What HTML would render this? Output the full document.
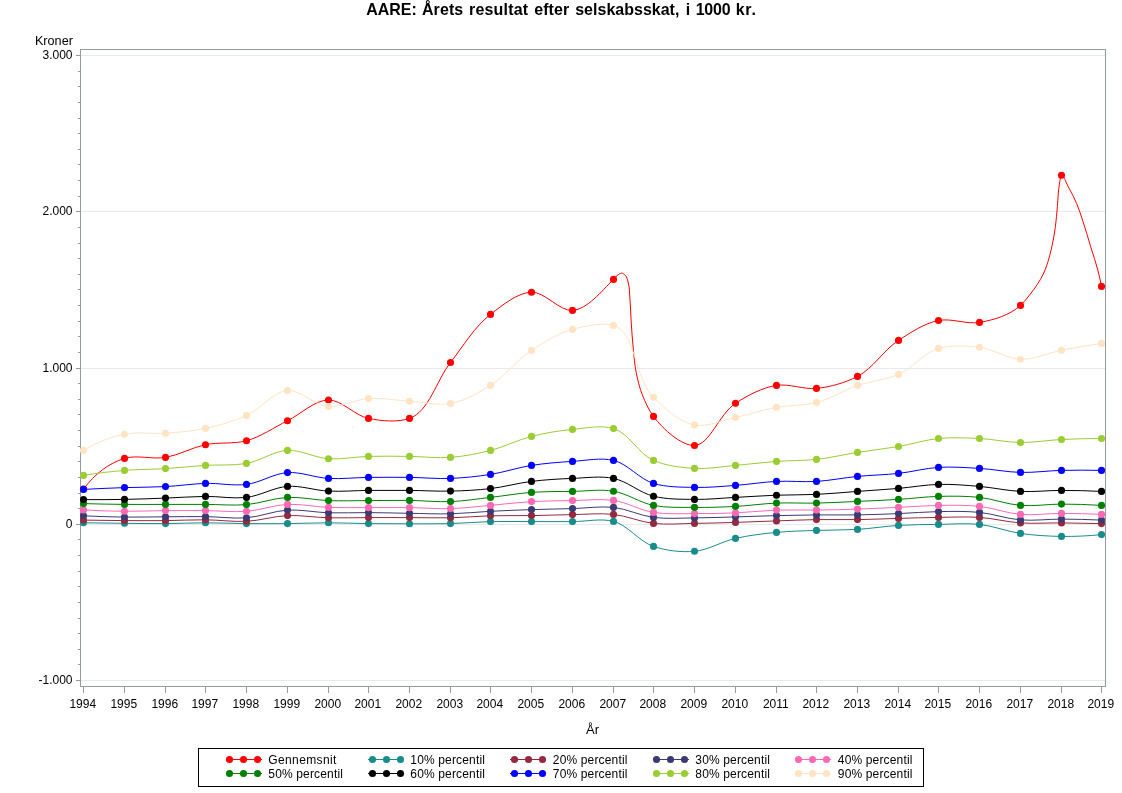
<!DOCTYPE html>
<html><head><meta charset="utf-8"><title>AARE</title>
<style>
html,body{margin:0;padding:0;background:#fff}
svg{display:block}
text{font-family:"Liberation Sans",Arial,sans-serif;fill:#000}
</style></head><body>
<svg width="1122" height="793" viewBox="0 0 1122 793">
<rect width="1122" height="793" fill="#fff"/>
<rect x="81" y="55" width="1024" height="1" fill="#E9E9E9"/>
<rect x="81" y="211" width="1024" height="1" fill="#E9E9E9"/>
<rect x="81" y="368" width="1024" height="1" fill="#E9E9E9"/>
<rect x="81" y="524" width="1024" height="1" fill="#E9E9E9"/>
<rect x="81" y="680" width="1024" height="1" fill="#E9E9E9"/>
<rect x="80.5" y="49.5" width="1025" height="637" fill="none" stroke="#949BA1" stroke-width="1"/>
<rect x="76" y="680" width="4" height="1" fill="#949BA1"/>
<rect x="78" y="664" width="2" height="1" fill="#949BA1"/>
<rect x="78" y="649" width="2" height="1" fill="#949BA1"/>
<rect x="78" y="633" width="2" height="1" fill="#949BA1"/>
<rect x="78" y="618" width="2" height="1" fill="#949BA1"/>
<rect x="78" y="602" width="2" height="1" fill="#949BA1"/>
<rect x="78" y="586" width="2" height="1" fill="#949BA1"/>
<rect x="78" y="571" width="2" height="1" fill="#949BA1"/>
<rect x="78" y="555" width="2" height="1" fill="#949BA1"/>
<rect x="78" y="539" width="2" height="1" fill="#949BA1"/>
<rect x="76" y="524" width="4" height="1" fill="#949BA1"/>
<rect x="78" y="508" width="2" height="1" fill="#949BA1"/>
<rect x="78" y="493" width="2" height="1" fill="#949BA1"/>
<rect x="78" y="477" width="2" height="1" fill="#949BA1"/>
<rect x="78" y="461" width="2" height="1" fill="#949BA1"/>
<rect x="78" y="446" width="2" height="1" fill="#949BA1"/>
<rect x="78" y="430" width="2" height="1" fill="#949BA1"/>
<rect x="78" y="414" width="2" height="1" fill="#949BA1"/>
<rect x="78" y="399" width="2" height="1" fill="#949BA1"/>
<rect x="78" y="383" width="2" height="1" fill="#949BA1"/>
<rect x="76" y="368" width="4" height="1" fill="#949BA1"/>
<rect x="78" y="352" width="2" height="1" fill="#949BA1"/>
<rect x="78" y="336" width="2" height="1" fill="#949BA1"/>
<rect x="78" y="321" width="2" height="1" fill="#949BA1"/>
<rect x="78" y="305" width="2" height="1" fill="#949BA1"/>
<rect x="78" y="289" width="2" height="1" fill="#949BA1"/>
<rect x="78" y="274" width="2" height="1" fill="#949BA1"/>
<rect x="78" y="258" width="2" height="1" fill="#949BA1"/>
<rect x="78" y="243" width="2" height="1" fill="#949BA1"/>
<rect x="78" y="227" width="2" height="1" fill="#949BA1"/>
<rect x="76" y="211" width="4" height="1" fill="#949BA1"/>
<rect x="78" y="196" width="2" height="1" fill="#949BA1"/>
<rect x="78" y="180" width="2" height="1" fill="#949BA1"/>
<rect x="78" y="164" width="2" height="1" fill="#949BA1"/>
<rect x="78" y="149" width="2" height="1" fill="#949BA1"/>
<rect x="78" y="133" width="2" height="1" fill="#949BA1"/>
<rect x="78" y="118" width="2" height="1" fill="#949BA1"/>
<rect x="78" y="102" width="2" height="1" fill="#949BA1"/>
<rect x="78" y="86" width="2" height="1" fill="#949BA1"/>
<rect x="78" y="71" width="2" height="1" fill="#949BA1"/>
<rect x="76" y="55" width="4" height="1" fill="#949BA1"/>
<rect x="83" y="687" width="1" height="6" fill="#949BA1"/>
<rect x="124" y="687" width="1" height="6" fill="#949BA1"/>
<rect x="165" y="687" width="1" height="6" fill="#949BA1"/>
<rect x="205" y="687" width="1" height="6" fill="#949BA1"/>
<rect x="246" y="687" width="1" height="6" fill="#949BA1"/>
<rect x="287" y="687" width="1" height="6" fill="#949BA1"/>
<rect x="328" y="687" width="1" height="6" fill="#949BA1"/>
<rect x="368" y="687" width="1" height="6" fill="#949BA1"/>
<rect x="409" y="687" width="1" height="6" fill="#949BA1"/>
<rect x="450" y="687" width="1" height="6" fill="#949BA1"/>
<rect x="490" y="687" width="1" height="6" fill="#949BA1"/>
<rect x="531" y="687" width="1" height="6" fill="#949BA1"/>
<rect x="572" y="687" width="1" height="6" fill="#949BA1"/>
<rect x="613" y="687" width="1" height="6" fill="#949BA1"/>
<rect x="653" y="687" width="1" height="6" fill="#949BA1"/>
<rect x="694" y="687" width="1" height="6" fill="#949BA1"/>
<rect x="735" y="687" width="1" height="6" fill="#949BA1"/>
<rect x="776" y="687" width="1" height="6" fill="#949BA1"/>
<rect x="816" y="687" width="1" height="6" fill="#949BA1"/>
<rect x="857" y="687" width="1" height="6" fill="#949BA1"/>
<rect x="898" y="687" width="1" height="6" fill="#949BA1"/>
<rect x="938" y="687" width="1" height="6" fill="#949BA1"/>
<rect x="979" y="687" width="1" height="6" fill="#949BA1"/>
<rect x="1020" y="687" width="1" height="6" fill="#949BA1"/>
<rect x="1061" y="687" width="1" height="6" fill="#949BA1"/>
<rect x="1101" y="687" width="1" height="6" fill="#949BA1"/>
<g fill="#FF0000" stroke="none">
<path d="M83.50 489.10C95.28 473.41 108.94 463.18 124.50 458.40C136.96 454.57 152.15 459.61 165.50 457.40C179.16 455.14 191.87 447.48 205.50 444.70C218.88 441.97 233.46 444.26 246.50 440.70C260.94 436.76 273.88 427.46 287.50 420.70C301.21 413.89 314.71 400.11 328.50 400.00C341.72 399.89 354.47 415.44 368.50 418.40C381.56 421.15 397.91 422.50 409.50 418.40C429.10 411.48 436.25 380.68 450.50 362.50C463.36 346.10 474.30 326.94 490.50 314.40C502.57 305.06 517.56 292.61 531.50 292.20C544.91 291.80 559.64 311.36 572.50 310.40C587.23 309.30 601.33 291.43 613.50 279.40C615.02 277.89 616.23 275.96 618.00 274.80C619.07 274.10 620.35 273.10 621.50 273.10C622.79 273.11 624.29 274.35 625.30 275.30C627.20 277.09 627.55 280.37 628.30 283.00C629.67 287.80 629.47 292.99 629.90 298.00C630.59 305.98 630.68 314.01 631.20 322.00C631.79 331.01 632.38 340.02 633.30 349.00C634.10 356.82 634.68 364.71 636.20 372.40C637.70 379.97 639.52 387.62 642.30 394.80C645.21 402.32 648.83 410.02 653.50 416.40C663.16 429.59 681.75 445.81 694.50 445.50C709.42 445.14 719.39 413.83 735.50 403.30C747.75 395.29 762.20 387.63 776.50 385.40C789.32 383.40 803.41 389.70 816.50 388.40C830.44 387.01 845.14 382.77 857.50 376.40C873.29 368.27 883.39 350.26 898.50 340.40C910.87 332.33 924.36 323.32 938.50 320.50C951.49 317.91 966.33 324.59 979.50 322.40C993.74 320.03 1009.82 315.20 1020.50 305.40C1024.07 302.13 1027.17 298.09 1030.20 294.20C1035.12 287.88 1039.84 281.17 1043.30 274.00C1047.10 266.12 1049.31 257.35 1051.40 248.80C1053.18 241.51 1054.38 234.04 1055.40 226.60C1056.32 219.90 1056.76 213.14 1057.40 206.40C1058.10 199.00 1058.00 191.48 1059.40 184.20C1059.98 181.21 1060.46 176.04 1061.50 175.30C1063.07 174.19 1066.29 183.17 1068.50 187.20C1071.40 192.49 1074.24 197.86 1076.60 203.40C1078.97 208.96 1080.77 214.76 1082.70 220.50C1085.61 229.18 1088.03 238.04 1090.70 246.80C1093.06 254.54 1095.78 262.17 1097.80 270.00C1099.20 275.42 1100.43 280.89 1101.50 286.40" fill="none" stroke="#FF0000" stroke-width="1"/>
<circle cx="83.5" cy="489.1" r="3.55"/>
<circle cx="124.5" cy="458.4" r="3.55"/>
<circle cx="165.5" cy="457.4" r="3.55"/>
<circle cx="205.5" cy="444.7" r="3.55"/>
<circle cx="246.5" cy="440.7" r="3.55"/>
<circle cx="287.5" cy="420.7" r="3.55"/>
<circle cx="328.5" cy="400.0" r="3.55"/>
<circle cx="368.5" cy="418.4" r="3.55"/>
<circle cx="409.5" cy="418.4" r="3.55"/>
<circle cx="450.5" cy="362.5" r="3.55"/>
<circle cx="490.5" cy="314.4" r="3.55"/>
<circle cx="531.5" cy="292.2" r="3.55"/>
<circle cx="572.5" cy="310.4" r="3.55"/>
<circle cx="613.5" cy="279.4" r="3.55"/>
<circle cx="653.5" cy="416.4" r="3.55"/>
<circle cx="694.5" cy="445.5" r="3.55"/>
<circle cx="735.5" cy="403.3" r="3.55"/>
<circle cx="776.5" cy="385.4" r="3.55"/>
<circle cx="816.5" cy="388.4" r="3.55"/>
<circle cx="857.5" cy="376.4" r="3.55"/>
<circle cx="898.5" cy="340.4" r="3.55"/>
<circle cx="938.5" cy="320.5" r="3.55"/>
<circle cx="979.5" cy="322.4" r="3.55"/>
<circle cx="1020.5" cy="305.4" r="3.55"/>
<circle cx="1061.5" cy="175.3" r="3.55"/>
<circle cx="1101.5" cy="286.4" r="3.55"/>
</g>
<g fill="#188C8C" stroke="none">
<path d="M83.50 522.80C97.17 523.00 110.83 523.17 124.50 523.30C138.17 523.43 151.83 523.69 165.50 523.60C178.83 523.51 192.17 522.81 205.50 522.80C219.17 522.79 232.83 523.47 246.50 523.60C260.17 523.73 273.83 523.73 287.50 523.60C301.17 523.47 314.83 522.79 328.50 522.80C341.83 522.81 355.17 523.43 368.50 523.60C382.17 523.77 395.83 523.80 409.50 523.80C423.17 523.80 436.84 523.98 450.50 523.60C463.84 523.23 477.16 521.94 490.50 521.60C504.16 521.25 517.83 521.60 531.50 521.60C545.17 521.60 558.83 521.63 572.50 521.60C586.17 521.57 600.80 518.07 613.50 521.40C628.11 525.23 638.95 541.52 653.50 546.40C666.24 550.68 681.10 552.49 694.50 551.30C708.45 550.06 721.57 541.57 735.50 538.40C748.93 535.35 762.77 533.73 776.50 532.40C789.77 531.11 803.16 530.90 816.50 530.40C830.16 529.89 843.86 530.23 857.50 529.40C871.20 528.57 884.80 526.23 898.50 525.40C911.80 524.59 925.16 524.57 938.50 524.40C952.16 524.23 965.99 522.95 979.50 524.40C993.33 525.88 1006.69 531.40 1020.50 533.40C1034.03 535.36 1047.82 536.22 1061.50 536.40C1074.82 536.58 1088.16 535.98 1101.50 534.60" fill="none" stroke="#188C8C" stroke-width="1"/>
<circle cx="83.5" cy="522.8" r="3.55"/>
<circle cx="124.5" cy="523.3" r="3.55"/>
<circle cx="165.5" cy="523.6" r="3.55"/>
<circle cx="205.5" cy="522.8" r="3.55"/>
<circle cx="246.5" cy="523.6" r="3.55"/>
<circle cx="287.5" cy="523.6" r="3.55"/>
<circle cx="328.5" cy="522.8" r="3.55"/>
<circle cx="368.5" cy="523.6" r="3.55"/>
<circle cx="409.5" cy="523.8" r="3.55"/>
<circle cx="450.5" cy="523.6" r="3.55"/>
<circle cx="490.5" cy="521.6" r="3.55"/>
<circle cx="531.5" cy="521.6" r="3.55"/>
<circle cx="572.5" cy="521.6" r="3.55"/>
<circle cx="613.5" cy="521.4" r="3.55"/>
<circle cx="653.5" cy="546.4" r="3.55"/>
<circle cx="694.5" cy="551.3" r="3.55"/>
<circle cx="735.5" cy="538.4" r="3.55"/>
<circle cx="776.5" cy="532.4" r="3.55"/>
<circle cx="816.5" cy="530.4" r="3.55"/>
<circle cx="857.5" cy="529.4" r="3.55"/>
<circle cx="898.5" cy="525.4" r="3.55"/>
<circle cx="938.5" cy="524.4" r="3.55"/>
<circle cx="979.5" cy="524.4" r="3.55"/>
<circle cx="1020.5" cy="533.4" r="3.55"/>
<circle cx="1061.5" cy="536.4" r="3.55"/>
<circle cx="1101.5" cy="534.6" r="3.55"/>
</g>
<g fill="#96293E" stroke="none">
<path d="M83.50 520.10C97.17 520.35 110.83 520.52 124.50 520.60C138.17 520.68 151.83 520.74 165.50 520.60C178.83 520.47 192.17 519.69 205.50 519.80C219.17 519.91 232.89 521.99 246.50 521.30C260.23 520.61 273.78 516.17 287.50 515.60C301.11 515.03 314.82 517.47 328.50 517.80C341.82 518.12 355.17 517.63 368.50 517.60C382.17 517.57 395.83 517.57 409.50 517.60C423.17 517.63 436.84 518.11 450.50 517.80C463.84 517.49 477.16 516.17 490.50 515.80C504.16 515.42 517.84 515.80 531.50 515.60C545.17 515.40 558.83 514.80 572.50 514.60C586.16 514.40 600.00 512.93 613.50 514.40C627.00 515.87 640.00 521.90 653.50 523.40C667.00 524.90 680.84 523.57 694.50 523.40C708.17 523.23 721.84 522.82 735.50 522.40C749.17 521.98 762.83 521.37 776.50 520.90C789.83 520.44 803.16 519.82 816.50 519.60C830.16 519.38 843.84 519.80 857.50 519.60C871.17 519.40 884.83 518.77 898.50 518.40C911.83 518.04 925.16 517.57 938.50 517.40C952.16 517.23 965.89 516.50 979.50 517.40C993.23 518.31 1006.77 521.99 1020.50 522.90C1034.11 523.80 1047.83 522.78 1061.50 522.90C1074.83 523.02 1088.17 523.25 1101.50 523.60" fill="none" stroke="#96293E" stroke-width="1"/>
<circle cx="83.5" cy="520.1" r="3.55"/>
<circle cx="124.5" cy="520.6" r="3.55"/>
<circle cx="165.5" cy="520.6" r="3.55"/>
<circle cx="205.5" cy="519.8" r="3.55"/>
<circle cx="246.5" cy="521.3" r="3.55"/>
<circle cx="287.5" cy="515.6" r="3.55"/>
<circle cx="328.5" cy="517.8" r="3.55"/>
<circle cx="368.5" cy="517.6" r="3.55"/>
<circle cx="409.5" cy="517.6" r="3.55"/>
<circle cx="450.5" cy="517.8" r="3.55"/>
<circle cx="490.5" cy="515.8" r="3.55"/>
<circle cx="531.5" cy="515.6" r="3.55"/>
<circle cx="572.5" cy="514.6" r="3.55"/>
<circle cx="613.5" cy="514.4" r="3.55"/>
<circle cx="653.5" cy="523.4" r="3.55"/>
<circle cx="694.5" cy="523.4" r="3.55"/>
<circle cx="735.5" cy="522.4" r="3.55"/>
<circle cx="776.5" cy="520.9" r="3.55"/>
<circle cx="816.5" cy="519.6" r="3.55"/>
<circle cx="857.5" cy="519.6" r="3.55"/>
<circle cx="898.5" cy="518.4" r="3.55"/>
<circle cx="938.5" cy="517.4" r="3.55"/>
<circle cx="979.5" cy="517.4" r="3.55"/>
<circle cx="1020.5" cy="522.9" r="3.55"/>
<circle cx="1061.5" cy="522.9" r="3.55"/>
<circle cx="1101.5" cy="523.6" r="3.55"/>
</g>
<g fill="#3C3A73" stroke="none">
<path d="M83.50 515.80C97.16 516.50 110.83 516.93 124.50 517.10C138.16 517.27 151.83 516.88 165.50 516.80C178.83 516.72 192.17 516.44 205.50 516.60C219.17 516.76 232.95 518.85 246.50 517.80C260.28 516.73 273.73 510.91 287.50 510.10C301.06 509.30 314.82 512.39 328.50 512.80C341.82 513.20 355.17 512.52 368.50 512.60C382.17 512.68 395.83 513.10 409.50 513.30C423.17 513.50 436.85 514.15 450.50 513.80C463.85 513.46 477.16 512.00 490.50 511.30C504.16 510.59 517.83 510.05 531.50 509.60C545.16 509.15 558.83 508.97 572.50 508.60C586.17 508.23 600.03 505.95 613.50 507.40C627.04 508.86 639.96 515.65 653.50 517.40C666.96 519.14 680.83 517.98 694.50 517.90C708.17 517.82 721.83 517.28 735.50 516.90C749.17 516.52 762.83 515.94 776.50 515.60C789.83 515.27 803.17 515.02 816.50 514.90C830.17 514.78 843.84 515.12 857.50 514.90C871.17 514.68 884.84 514.16 898.50 513.60C911.84 513.05 925.16 511.81 938.50 511.60C952.16 511.39 965.94 511.05 979.50 512.40C993.28 513.78 1006.72 518.80 1020.50 519.90C1034.06 520.99 1047.83 519.06 1061.50 519.10C1074.83 519.14 1088.17 519.47 1101.50 520.10" fill="none" stroke="#3C3A73" stroke-width="1"/>
<circle cx="83.5" cy="515.8" r="3.55"/>
<circle cx="124.5" cy="517.1" r="3.55"/>
<circle cx="165.5" cy="516.8" r="3.55"/>
<circle cx="205.5" cy="516.6" r="3.55"/>
<circle cx="246.5" cy="517.8" r="3.55"/>
<circle cx="287.5" cy="510.1" r="3.55"/>
<circle cx="328.5" cy="512.8" r="3.55"/>
<circle cx="368.5" cy="512.6" r="3.55"/>
<circle cx="409.5" cy="513.3" r="3.55"/>
<circle cx="450.5" cy="513.8" r="3.55"/>
<circle cx="490.5" cy="511.3" r="3.55"/>
<circle cx="531.5" cy="509.6" r="3.55"/>
<circle cx="572.5" cy="508.6" r="3.55"/>
<circle cx="613.5" cy="507.4" r="3.55"/>
<circle cx="653.5" cy="517.4" r="3.55"/>
<circle cx="694.5" cy="517.9" r="3.55"/>
<circle cx="735.5" cy="516.9" r="3.55"/>
<circle cx="776.5" cy="515.6" r="3.55"/>
<circle cx="816.5" cy="514.9" r="3.55"/>
<circle cx="857.5" cy="514.9" r="3.55"/>
<circle cx="898.5" cy="513.6" r="3.55"/>
<circle cx="938.5" cy="511.6" r="3.55"/>
<circle cx="979.5" cy="512.4" r="3.55"/>
<circle cx="1020.5" cy="519.9" r="3.55"/>
<circle cx="1061.5" cy="519.1" r="3.55"/>
<circle cx="1101.5" cy="520.1" r="3.55"/>
</g>
<g fill="#FF69B4" stroke="none">
<path d="M83.50 509.90C97.16 510.72 110.83 511.18 124.50 511.30C138.16 511.42 151.83 510.72 165.50 510.60C178.83 510.49 192.17 510.49 205.50 510.60C219.17 510.72 232.93 512.31 246.50 511.30C260.26 510.28 273.76 505.03 287.50 504.40C301.09 503.77 314.81 506.87 328.50 507.40C341.82 507.91 355.17 507.57 368.50 507.60C382.17 507.63 395.84 507.43 409.50 507.60C423.17 507.77 436.85 508.99 450.50 508.60C463.85 508.22 477.17 506.55 490.50 505.40C504.17 504.22 517.81 502.40 531.50 501.60C545.14 500.80 558.83 500.80 572.50 500.60C586.16 500.40 600.12 498.49 613.50 500.40C627.13 502.35 639.87 510.21 653.50 512.40C666.88 514.55 680.83 513.52 694.50 513.60C708.16 513.68 721.85 513.48 735.50 512.90C749.18 512.32 762.82 510.56 776.50 510.10C789.82 509.65 803.17 510.26 816.50 510.10C830.17 509.94 843.84 509.55 857.50 509.10C871.17 508.65 884.84 508.03 898.50 507.40C911.84 506.79 925.16 505.58 938.50 505.40C952.16 505.22 965.96 504.93 979.50 506.40C993.29 507.89 1006.71 513.25 1020.50 514.40C1034.04 515.53 1047.83 513.39 1061.50 513.40C1074.83 513.41 1088.17 513.74 1101.50 514.40" fill="none" stroke="#FF69B4" stroke-width="1"/>
<circle cx="83.5" cy="509.9" r="3.55"/>
<circle cx="124.5" cy="511.3" r="3.55"/>
<circle cx="165.5" cy="510.6" r="3.55"/>
<circle cx="205.5" cy="510.6" r="3.55"/>
<circle cx="246.5" cy="511.3" r="3.55"/>
<circle cx="287.5" cy="504.4" r="3.55"/>
<circle cx="328.5" cy="507.4" r="3.55"/>
<circle cx="368.5" cy="507.6" r="3.55"/>
<circle cx="409.5" cy="507.6" r="3.55"/>
<circle cx="450.5" cy="508.6" r="3.55"/>
<circle cx="490.5" cy="505.4" r="3.55"/>
<circle cx="531.5" cy="501.6" r="3.55"/>
<circle cx="572.5" cy="500.6" r="3.55"/>
<circle cx="613.5" cy="500.4" r="3.55"/>
<circle cx="653.5" cy="512.4" r="3.55"/>
<circle cx="694.5" cy="513.6" r="3.55"/>
<circle cx="735.5" cy="512.9" r="3.55"/>
<circle cx="776.5" cy="510.1" r="3.55"/>
<circle cx="816.5" cy="510.1" r="3.55"/>
<circle cx="857.5" cy="509.1" r="3.55"/>
<circle cx="898.5" cy="507.4" r="3.55"/>
<circle cx="938.5" cy="505.4" r="3.55"/>
<circle cx="979.5" cy="506.4" r="3.55"/>
<circle cx="1020.5" cy="514.4" r="3.55"/>
<circle cx="1061.5" cy="513.4" r="3.55"/>
<circle cx="1101.5" cy="514.4" r="3.55"/>
</g>
<g fill="#008000" stroke="none">
<path d="M83.50 503.60C97.17 504.00 110.83 504.27 124.50 504.40C138.17 504.53 151.83 504.40 165.50 504.40C178.83 504.40 192.17 504.37 205.50 504.40C219.17 504.43 232.94 505.74 246.50 504.60C260.27 503.44 273.75 498.05 287.50 497.40C301.08 496.76 314.81 500.07 328.50 500.60C341.81 501.11 355.17 500.63 368.50 500.60C382.17 500.57 395.84 500.23 409.50 500.40C423.17 500.57 436.87 502.12 450.50 501.60C463.87 501.09 477.18 498.91 490.50 497.40C504.18 495.85 517.78 493.40 531.50 492.40C545.12 491.41 558.83 491.60 572.50 491.40C586.16 491.20 600.22 488.99 613.50 491.20C627.25 493.49 639.76 502.72 653.50 505.40C666.79 507.99 680.83 507.23 694.50 507.40C708.16 507.57 721.85 507.11 735.50 506.40C749.19 505.68 762.81 503.64 776.50 503.10C789.81 502.57 803.17 503.37 816.50 503.10C830.17 502.82 843.84 502.02 857.50 501.40C871.17 500.78 884.84 500.25 898.50 499.40C911.84 498.57 925.15 496.74 938.50 496.40C952.15 496.05 965.96 495.93 979.50 497.40C993.29 498.89 1006.71 504.30 1020.50 505.40C1034.04 506.48 1047.83 504.09 1061.50 504.10C1074.83 504.11 1088.17 504.54 1101.50 505.40" fill="none" stroke="#008000" stroke-width="1"/>
<circle cx="83.5" cy="503.6" r="3.55"/>
<circle cx="124.5" cy="504.4" r="3.55"/>
<circle cx="165.5" cy="504.4" r="3.55"/>
<circle cx="205.5" cy="504.4" r="3.55"/>
<circle cx="246.5" cy="504.6" r="3.55"/>
<circle cx="287.5" cy="497.4" r="3.55"/>
<circle cx="328.5" cy="500.6" r="3.55"/>
<circle cx="368.5" cy="500.6" r="3.55"/>
<circle cx="409.5" cy="500.4" r="3.55"/>
<circle cx="450.5" cy="501.6" r="3.55"/>
<circle cx="490.5" cy="497.4" r="3.55"/>
<circle cx="531.5" cy="492.4" r="3.55"/>
<circle cx="572.5" cy="491.4" r="3.55"/>
<circle cx="613.5" cy="491.2" r="3.55"/>
<circle cx="653.5" cy="505.4" r="3.55"/>
<circle cx="694.5" cy="507.4" r="3.55"/>
<circle cx="735.5" cy="506.4" r="3.55"/>
<circle cx="776.5" cy="503.1" r="3.55"/>
<circle cx="816.5" cy="503.1" r="3.55"/>
<circle cx="857.5" cy="501.4" r="3.55"/>
<circle cx="898.5" cy="499.4" r="3.55"/>
<circle cx="938.5" cy="496.4" r="3.55"/>
<circle cx="979.5" cy="497.4" r="3.55"/>
<circle cx="1020.5" cy="505.4" r="3.55"/>
<circle cx="1061.5" cy="504.1" r="3.55"/>
<circle cx="1101.5" cy="505.4" r="3.55"/>
</g>
<g fill="#000000" stroke="none">
<path d="M83.50 499.60C97.17 499.72 110.84 499.65 124.50 499.40C138.17 499.15 151.84 498.61 165.50 498.10C178.84 497.60 192.16 496.53 205.50 496.40C219.16 496.27 233.06 498.97 246.50 497.40C260.41 495.77 273.63 487.39 287.50 486.40C300.98 485.44 314.79 490.45 328.50 491.10C341.79 491.73 355.17 490.52 368.50 490.40C382.17 490.28 395.83 490.28 409.50 490.40C423.17 490.52 436.85 491.42 450.50 491.10C463.85 490.79 477.25 490.16 490.50 488.60C504.26 486.98 517.75 483.10 531.50 481.40C545.08 479.72 558.82 478.90 572.50 478.40C586.15 477.90 600.40 475.71 613.50 478.40C627.48 481.27 639.54 492.74 653.50 496.20C666.61 499.45 680.82 499.20 694.50 499.40C708.15 499.60 721.84 498.10 735.50 497.40C749.17 496.70 762.82 495.70 776.50 495.20C789.83 494.71 803.18 495.02 816.50 494.40C830.18 493.77 843.83 492.40 857.50 491.40C871.17 490.40 884.85 489.58 898.50 488.40C911.85 487.24 925.14 484.75 938.50 484.40C952.14 484.04 965.88 485.24 979.50 486.40C993.21 487.57 1006.78 490.74 1020.50 491.40C1034.12 492.06 1047.83 490.39 1061.50 490.40C1074.83 490.41 1088.17 490.74 1101.50 491.40" fill="none" stroke="#000000" stroke-width="1"/>
<circle cx="83.5" cy="499.6" r="3.55"/>
<circle cx="124.5" cy="499.4" r="3.55"/>
<circle cx="165.5" cy="498.1" r="3.55"/>
<circle cx="205.5" cy="496.4" r="3.55"/>
<circle cx="246.5" cy="497.4" r="3.55"/>
<circle cx="287.5" cy="486.4" r="3.55"/>
<circle cx="328.5" cy="491.1" r="3.55"/>
<circle cx="368.5" cy="490.4" r="3.55"/>
<circle cx="409.5" cy="490.4" r="3.55"/>
<circle cx="450.5" cy="491.1" r="3.55"/>
<circle cx="490.5" cy="488.6" r="3.55"/>
<circle cx="531.5" cy="481.4" r="3.55"/>
<circle cx="572.5" cy="478.4" r="3.55"/>
<circle cx="613.5" cy="478.4" r="3.55"/>
<circle cx="653.5" cy="496.2" r="3.55"/>
<circle cx="694.5" cy="499.4" r="3.55"/>
<circle cx="735.5" cy="497.4" r="3.55"/>
<circle cx="776.5" cy="495.2" r="3.55"/>
<circle cx="816.5" cy="494.4" r="3.55"/>
<circle cx="857.5" cy="491.4" r="3.55"/>
<circle cx="898.5" cy="488.4" r="3.55"/>
<circle cx="938.5" cy="484.4" r="3.55"/>
<circle cx="979.5" cy="486.4" r="3.55"/>
<circle cx="1020.5" cy="491.4" r="3.55"/>
<circle cx="1061.5" cy="490.4" r="3.55"/>
<circle cx="1101.5" cy="491.4" r="3.55"/>
</g>
<g fill="#0000FF" stroke="none">
<path d="M83.50 489.40C97.16 488.67 110.83 488.07 124.50 487.60C138.16 487.13 151.85 487.32 165.50 486.60C178.85 485.90 192.15 483.78 205.50 483.40C219.15 483.01 233.09 486.08 246.50 484.40C260.45 482.65 273.62 473.53 287.50 472.60C300.97 471.70 314.77 477.63 328.50 478.40C341.77 479.15 355.16 477.57 368.50 477.40C382.16 477.23 395.84 477.23 409.50 477.40C423.17 477.57 436.87 478.92 450.50 478.40C463.86 477.89 477.29 476.49 490.50 474.40C504.30 472.22 517.70 467.57 531.50 465.40C545.04 463.27 558.80 462.23 572.50 461.40C586.14 460.57 600.69 457.37 613.50 460.40C627.91 463.81 639.12 478.99 653.50 483.40C666.34 487.33 680.81 487.07 694.50 487.40C708.14 487.73 721.86 486.40 735.50 485.40C749.19 484.40 762.80 482.06 776.50 481.40C789.80 480.76 803.21 482.19 816.50 481.40C830.22 480.58 843.80 477.73 857.50 476.40C871.13 475.07 884.89 474.92 898.50 473.40C911.89 471.90 925.09 468.24 938.50 467.40C952.09 466.54 965.86 467.57 979.50 468.40C993.20 469.23 1006.81 472.07 1020.50 472.40C1034.14 472.73 1047.83 470.73 1061.50 470.40C1074.83 470.08 1088.16 470.08 1101.50 470.40" fill="none" stroke="#0000FF" stroke-width="1"/>
<circle cx="83.5" cy="489.4" r="3.55"/>
<circle cx="124.5" cy="487.6" r="3.55"/>
<circle cx="165.5" cy="486.6" r="3.55"/>
<circle cx="205.5" cy="483.4" r="3.55"/>
<circle cx="246.5" cy="484.4" r="3.55"/>
<circle cx="287.5" cy="472.6" r="3.55"/>
<circle cx="328.5" cy="478.4" r="3.55"/>
<circle cx="368.5" cy="477.4" r="3.55"/>
<circle cx="409.5" cy="477.4" r="3.55"/>
<circle cx="450.5" cy="478.4" r="3.55"/>
<circle cx="490.5" cy="474.4" r="3.55"/>
<circle cx="531.5" cy="465.4" r="3.55"/>
<circle cx="572.5" cy="461.4" r="3.55"/>
<circle cx="613.5" cy="460.4" r="3.55"/>
<circle cx="653.5" cy="483.4" r="3.55"/>
<circle cx="694.5" cy="487.4" r="3.55"/>
<circle cx="735.5" cy="485.4" r="3.55"/>
<circle cx="776.5" cy="481.4" r="3.55"/>
<circle cx="816.5" cy="481.4" r="3.55"/>
<circle cx="857.5" cy="476.4" r="3.55"/>
<circle cx="898.5" cy="473.4" r="3.55"/>
<circle cx="938.5" cy="467.4" r="3.55"/>
<circle cx="979.5" cy="468.4" r="3.55"/>
<circle cx="1020.5" cy="472.4" r="3.55"/>
<circle cx="1061.5" cy="470.4" r="3.55"/>
<circle cx="1101.5" cy="470.4" r="3.55"/>
</g>
<g fill="#9ACD32" stroke="none">
<path d="M83.50 475.40C97.12 473.20 110.79 471.53 124.50 470.40C138.12 469.27 151.85 469.45 165.50 468.60C178.85 467.77 192.15 466.26 205.50 465.40C219.15 464.52 233.14 465.76 246.50 463.40C260.50 460.93 273.64 451.09 287.50 450.40C300.98 449.72 314.70 457.76 328.50 458.70C341.71 459.60 355.16 456.79 368.50 456.40C382.16 456.00 395.84 456.23 409.50 456.40C423.17 456.57 436.93 458.42 450.50 457.40C463.93 456.39 477.42 453.72 490.50 450.40C504.46 446.86 517.54 439.93 531.50 436.40C544.90 433.02 558.74 430.71 572.50 429.40C586.07 428.11 601.16 424.87 613.50 428.50C628.90 433.02 638.29 453.82 653.50 460.40C665.92 465.77 680.72 467.59 694.50 468.40C708.06 469.20 721.85 466.57 735.50 465.40C749.18 464.23 762.81 462.40 776.50 461.40C789.81 460.42 803.25 460.84 816.50 459.40C830.26 457.90 843.81 454.55 857.50 452.40C871.14 450.26 884.90 448.84 898.50 446.50C911.90 444.20 925.03 439.84 938.50 438.50C952.03 437.16 965.87 437.84 979.50 438.50C993.20 439.17 1006.82 442.34 1020.50 442.50C1034.15 442.66 1047.82 440.17 1061.50 439.50C1074.82 438.85 1088.15 438.52 1101.50 438.50" fill="none" stroke="#9ACD32" stroke-width="1"/>
<circle cx="83.5" cy="475.4" r="3.55"/>
<circle cx="124.5" cy="470.4" r="3.55"/>
<circle cx="165.5" cy="468.6" r="3.55"/>
<circle cx="205.5" cy="465.4" r="3.55"/>
<circle cx="246.5" cy="463.4" r="3.55"/>
<circle cx="287.5" cy="450.4" r="3.55"/>
<circle cx="328.5" cy="458.7" r="3.55"/>
<circle cx="368.5" cy="456.4" r="3.55"/>
<circle cx="409.5" cy="456.4" r="3.55"/>
<circle cx="450.5" cy="457.4" r="3.55"/>
<circle cx="490.5" cy="450.4" r="3.55"/>
<circle cx="531.5" cy="436.4" r="3.55"/>
<circle cx="572.5" cy="429.4" r="3.55"/>
<circle cx="613.5" cy="428.5" r="3.55"/>
<circle cx="653.5" cy="460.4" r="3.55"/>
<circle cx="694.5" cy="468.4" r="3.55"/>
<circle cx="735.5" cy="465.4" r="3.55"/>
<circle cx="776.5" cy="461.4" r="3.55"/>
<circle cx="816.5" cy="459.4" r="3.55"/>
<circle cx="857.5" cy="452.4" r="3.55"/>
<circle cx="898.5" cy="446.5" r="3.55"/>
<circle cx="938.5" cy="438.5" r="3.55"/>
<circle cx="979.5" cy="438.5" r="3.55"/>
<circle cx="1020.5" cy="442.5" r="3.55"/>
<circle cx="1061.5" cy="439.5" r="3.55"/>
<circle cx="1101.5" cy="438.5" r="3.55"/>
</g>
<g fill="#FFE4C4" stroke="none">
<path d="M83.50 450.40C96.64 442.39 110.30 436.99 124.50 434.20C137.71 431.61 151.88 434.19 165.50 433.20C178.88 432.23 192.42 431.19 205.50 428.40C219.46 425.42 233.50 421.20 246.50 415.40C261.00 408.93 273.19 391.44 287.50 390.50C300.63 389.64 314.46 405.43 328.50 406.50C341.51 407.49 355.05 399.39 368.50 398.50C382.05 397.60 395.83 400.37 409.50 401.20C423.16 402.03 437.41 405.83 450.50 403.50C464.49 401.01 478.16 392.99 490.50 385.40C505.66 376.08 516.58 360.19 531.50 350.40C544.25 342.03 557.98 333.49 572.50 329.40C585.48 325.74 602.17 322.29 613.50 325.40C636.14 331.62 634.30 378.71 653.50 397.30C665.05 408.48 679.45 422.39 694.50 425.00C707.18 427.20 721.92 420.42 735.50 417.50C749.26 414.54 762.67 409.82 776.50 407.30C789.69 404.90 803.61 405.80 816.50 402.50C830.71 398.86 843.51 390.15 857.50 385.40C870.87 380.86 885.68 379.97 898.50 374.40C912.91 368.14 923.79 352.64 938.50 348.40C951.15 344.76 966.10 345.62 979.50 347.30C993.45 349.05 1006.71 358.76 1020.50 359.20C1034.05 359.64 1047.78 352.97 1061.50 350.30C1074.78 347.72 1088.11 345.42 1101.50 343.40" fill="none" stroke="#FFE4C4" stroke-width="1"/>
<circle cx="83.5" cy="450.4" r="3.55"/>
<circle cx="124.5" cy="434.2" r="3.55"/>
<circle cx="165.5" cy="433.2" r="3.55"/>
<circle cx="205.5" cy="428.4" r="3.55"/>
<circle cx="246.5" cy="415.4" r="3.55"/>
<circle cx="287.5" cy="390.5" r="3.55"/>
<circle cx="328.5" cy="406.5" r="3.55"/>
<circle cx="368.5" cy="398.5" r="3.55"/>
<circle cx="409.5" cy="401.2" r="3.55"/>
<circle cx="450.5" cy="403.5" r="3.55"/>
<circle cx="490.5" cy="385.4" r="3.55"/>
<circle cx="531.5" cy="350.4" r="3.55"/>
<circle cx="572.5" cy="329.4" r="3.55"/>
<circle cx="613.5" cy="325.4" r="3.55"/>
<circle cx="653.5" cy="397.3" r="3.55"/>
<circle cx="694.5" cy="425.0" r="3.55"/>
<circle cx="735.5" cy="417.5" r="3.55"/>
<circle cx="776.5" cy="407.3" r="3.55"/>
<circle cx="816.5" cy="402.5" r="3.55"/>
<circle cx="857.5" cy="385.4" r="3.55"/>
<circle cx="898.5" cy="374.4" r="3.55"/>
<circle cx="938.5" cy="348.4" r="3.55"/>
<circle cx="979.5" cy="347.3" r="3.55"/>
<circle cx="1020.5" cy="359.2" r="3.55"/>
<circle cx="1061.5" cy="350.3" r="3.55"/>
<circle cx="1101.5" cy="343.4" r="3.55"/>
</g>
<text transform="translate(0,15) scale(1,1.04)" y="0" font-weight="bold" font-size="16"><tspan x="366.2" textLength="50.67" lengthAdjust="spacing">AARE:</tspan> <tspan x="422.0" textLength="41.20" lengthAdjust="spacing">Årets</tspan> <tspan x="469.0" textLength="59.20" lengthAdjust="spacing">resultat</tspan> <tspan x="534.3" textLength="34.90" lengthAdjust="spacing">efter</tspan> <tspan x="575.2" textLength="104.20" lengthAdjust="spacing">selskabsskat,</tspan> <tspan x="685.8" textLength="4.45" lengthAdjust="spacing">i</tspan> <tspan x="695.7" textLength="34.90" lengthAdjust="spacing">1000</tspan> <tspan x="735.7" textLength="20.20" lengthAdjust="spacing">kr.</tspan></text>
<text x="34.9" y="45" font-size="13.6" textLength="38" lengthAdjust="spacingAndGlyphs">Kroner</text>
<text x="72.5" y="59" font-size="12" text-anchor="end">3.000</text>
<text x="72.5" y="215" font-size="12" text-anchor="end">2.000</text>
<text x="72.5" y="372" font-size="12" text-anchor="end">1.000</text>
<text x="72.5" y="528" font-size="12" text-anchor="end">0</text>
<text x="72.5" y="684" font-size="12" text-anchor="end">-1.000</text>
<text x="82.8" y="708" font-size="12" text-anchor="middle">1994</text>
<text x="123.8" y="708" font-size="12" text-anchor="middle">1995</text>
<text x="164.8" y="708" font-size="12" text-anchor="middle">1996</text>
<text x="204.8" y="708" font-size="12" text-anchor="middle">1997</text>
<text x="245.8" y="708" font-size="12" text-anchor="middle">1998</text>
<text x="286.8" y="708" font-size="12" text-anchor="middle">1999</text>
<text x="327.8" y="708" font-size="12" text-anchor="middle">2000</text>
<text x="367.8" y="708" font-size="12" text-anchor="middle">2001</text>
<text x="408.8" y="708" font-size="12" text-anchor="middle">2002</text>
<text x="449.8" y="708" font-size="12" text-anchor="middle">2003</text>
<text x="489.8" y="708" font-size="12" text-anchor="middle">2004</text>
<text x="530.8" y="708" font-size="12" text-anchor="middle">2005</text>
<text x="571.8" y="708" font-size="12" text-anchor="middle">2006</text>
<text x="612.8" y="708" font-size="12" text-anchor="middle">2007</text>
<text x="652.8" y="708" font-size="12" text-anchor="middle">2008</text>
<text x="693.8" y="708" font-size="12" text-anchor="middle">2009</text>
<text x="734.8" y="708" font-size="12" text-anchor="middle">2010</text>
<text x="775.8" y="708" font-size="12" text-anchor="middle">2011</text>
<text x="815.8" y="708" font-size="12" text-anchor="middle">2012</text>
<text x="856.8" y="708" font-size="12" text-anchor="middle">2013</text>
<text x="897.8" y="708" font-size="12" text-anchor="middle">2014</text>
<text x="937.8" y="708" font-size="12" text-anchor="middle">2015</text>
<text x="978.8" y="708" font-size="12" text-anchor="middle">2016</text>
<text x="1019.8" y="708" font-size="12" text-anchor="middle">2017</text>
<text x="1060.8" y="708" font-size="12" text-anchor="middle">2018</text>
<text x="1100.8" y="708" font-size="12" text-anchor="middle">2019</text>
<text x="586.1" y="734" font-size="13" textLength="13" lengthAdjust="spacingAndGlyphs">År</text>
<rect x="198.5" y="748.5" width="725" height="38" fill="#fff" stroke="#000" stroke-width="1"/>
<g fill="#FF0000"><rect x="226" y="759" width="36" height="1"/>
<circle cx="229.5" cy="759.5" r="3.55"/>
<circle cx="243.5" cy="759.5" r="3.55"/>
<circle cx="257.5" cy="759.5" r="3.55"/>
</g>
<text x="268.3" y="764.0" font-size="12" textLength="68.0" lengthAdjust="spacing">Gennemsnit</text>
<g fill="#188C8C"><rect x="368" y="759" width="36" height="1"/>
<circle cx="372.5" cy="759.5" r="3.55"/>
<circle cx="386.5" cy="759.5" r="3.55"/>
<circle cx="400.5" cy="759.5" r="3.55"/>
</g>
<text x="410.3" y="764.0" font-size="12" textLength="74.6" lengthAdjust="spacing">10% percentil</text>
<g fill="#96293E"><rect x="510" y="759" width="36" height="1"/>
<circle cx="514.5" cy="759.5" r="3.55"/>
<circle cx="528.5" cy="759.5" r="3.55"/>
<circle cx="542.5" cy="759.5" r="3.55"/>
</g>
<text x="552.8" y="764.0" font-size="12" textLength="74.6" lengthAdjust="spacing">20% percentil</text>
<g fill="#3C3A73"><rect x="653" y="759" width="36" height="1"/>
<circle cx="656.5" cy="759.5" r="3.55"/>
<circle cx="670.5" cy="759.5" r="3.55"/>
<circle cx="684.5" cy="759.5" r="3.55"/>
</g>
<text x="695.3" y="764.0" font-size="12" textLength="74.6" lengthAdjust="spacing">30% percentil</text>
<g fill="#FF69B4"><rect x="795" y="759" width="36" height="1"/>
<circle cx="798.5" cy="759.5" r="3.55"/>
<circle cx="812.5" cy="759.5" r="3.55"/>
<circle cx="826.5" cy="759.5" r="3.55"/>
</g>
<text x="837.8" y="764.0" font-size="12" textLength="74.6" lengthAdjust="spacing">40% percentil</text>
<g fill="#008000"><rect x="226" y="773" width="36" height="1"/>
<circle cx="229.5" cy="773.5" r="3.55"/>
<circle cx="243.5" cy="773.5" r="3.55"/>
<circle cx="257.5" cy="773.5" r="3.55"/>
</g>
<text x="268.3" y="778.0" font-size="12" textLength="74.6" lengthAdjust="spacing">50% percentil</text>
<g fill="#000000"><rect x="368" y="773" width="36" height="1"/>
<circle cx="372.5" cy="773.5" r="3.55"/>
<circle cx="386.5" cy="773.5" r="3.55"/>
<circle cx="400.5" cy="773.5" r="3.55"/>
</g>
<text x="410.3" y="778.0" font-size="12" textLength="74.6" lengthAdjust="spacing">60% percentil</text>
<g fill="#0000FF"><rect x="510" y="773" width="36" height="1"/>
<circle cx="514.5" cy="773.5" r="3.55"/>
<circle cx="528.5" cy="773.5" r="3.55"/>
<circle cx="542.5" cy="773.5" r="3.55"/>
</g>
<text x="552.8" y="778.0" font-size="12" textLength="74.6" lengthAdjust="spacing">70% percentil</text>
<g fill="#9ACD32"><rect x="653" y="773" width="36" height="1"/>
<circle cx="656.5" cy="773.5" r="3.55"/>
<circle cx="670.5" cy="773.5" r="3.55"/>
<circle cx="684.5" cy="773.5" r="3.55"/>
</g>
<text x="695.3" y="778.0" font-size="12" textLength="74.6" lengthAdjust="spacing">80% percentil</text>
<g fill="#FFE4C4"><rect x="795" y="773" width="36" height="1"/>
<circle cx="798.5" cy="773.5" r="3.55"/>
<circle cx="812.5" cy="773.5" r="3.55"/>
<circle cx="826.5" cy="773.5" r="3.55"/>
</g>
<text x="837.8" y="778.0" font-size="12" textLength="74.6" lengthAdjust="spacing">90% percentil</text>
</svg>
</body></html>
